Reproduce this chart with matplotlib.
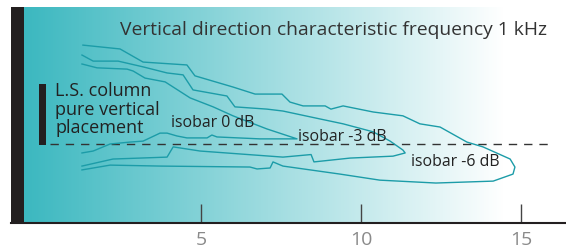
import numpy as np
import matplotlib
matplotlib.use('Agg')
import matplotlib.pyplot as plt
from matplotlib.colors import LinearSegmentedColormap
from matplotlib.patches import Rectangle

plt.rcParams['font.family'] = ['Open Sans', 'DejaVu Sans']

# isobar contours (x: distance, y: height relative to reference line)
iso0_x = [1.28, 1.75, 2.69, 2.88, 3.25, 3.88, 4.66, 5.38, 6.00, 7.06, 8.00,
          6.84, 5.50, 5.34, 5.19, 4.56, 4.25, 3.94, 3.72, 3.19, 2.78, 2.47, 2.16, 1.63, 1.28]
iso0_y = [2.50, 2.38, 2.34, 2.28, 2.06, 1.94, 1.44, 1.16, 0.88, 0.47, 0.16,
          0.16, 0.22, 0.28, 0.19, 0.19, 0.25, 0.34, 0.34, 0.09, 0.06, 0.03, 0.00, -0.22, -0.28]

iso3_x = [1.28, 1.63, 2.41, 3.19, 3.94, 4.44, 4.75, 5.81, 6.06, 7.06, 7.56, 8.59, 9.44,
          10.38, 10.91, 11.31, 11.38, 11.00, 9.66, 8.53, 8.44, 7.56, 4.97, 4.13, 3.94, 2.25, 1.28]
iso3_y = [2.78, 2.59, 2.59, 2.41, 2.22, 2.16, 1.69, 1.50, 1.16, 1.09, 1.03, 0.81, 0.63,
          0.38, 0.09, -0.19, -0.28, -0.38, -0.44, -0.56, -0.33, -0.41, -0.22, -0.09, -0.41, -0.47, -0.69]

iso6_x = [1.31, 2.47, 3.19, 4.56, 4.81, 6.00, 6.69, 7.53, 7.78, 8.19, 8.88, 9.06, 9.44,
          10.38, 11.31, 11.84, 12.47, 13.31, 13.81, 14.66, 14.81, 14.75, 14.13, 12.34, 10.59,
          9.34, 7.56, 7.25, 7.16, 6.75, 6.53, 3.72, 2.16, 1.28]
iso6_y = [3.09, 2.97, 2.56, 2.47, 2.13, 1.78, 1.56, 1.56, 1.31, 1.19, 1.19, 1.09, 1.19,
          1.00, 0.88, 0.63, 0.53, 0.06, -0.09, -0.47, -0.72, -0.94, -1.16, -1.22, -1.13,
          -0.94, -0.69, -0.56, -0.75, -0.78, -0.72, -0.69, -0.66, -0.81]

ticks = [5, 10, 15]
iso_labels = ['isobar 0 dB', 'isobar -3 dB', 'isobar -6 dB']
label_pos = [(5.38, 0.69), (9.41, 0.25), (12.94, -0.53)]

teal = '#1c9ca8'
dark = '#333333'

fig = plt.figure(figsize=(5.66, 2.51), dpi=100)
ax = fig.add_axes([11 / 566, 27 / 251, 555 / 566, 216 / 251])
x0, x1 = -0.9375, 16.406
y0, y1 = -2.469, 4.281
ax.set_xlim(x0, x1)
ax.set_ylim(y0, y1)

# background gradient
cmap = LinearSegmentedColormap.from_list('bg', ['#3cb8c0', '#ffffff'])
grad = np.clip(np.linspace(0, 542 / 481, 600), 0, 1)[None, :]
ax.imshow(grad, cmap=cmap, vmin=0, vmax=1, aspect='auto',
          extent=[-0.531, x1, y0, y1], zorder=0)
ax.add_patch(Rectangle((x0, y0), -0.531 - x0, y1 - y0, color='#231f20', zorder=1, lw=0))

for xs, ys in [(iso0_x, iso0_y), (iso3_x, iso3_y), (iso6_x, iso6_y)]:
    ax.plot(xs, ys, color=teal, lw=1.0, zorder=3)

ax.plot([0.28, 15.84], [0, 0], color=dark, lw=1.0, dashes=(6, 5), zorder=2)

for lab, (lx, ly) in zip(iso_labels, label_pos):
    ax.text(lx, ly, lab, ha='center', va='center', fontsize=11.4, color='#222222', zorder=4)

ax.add_patch(Rectangle((-0.06, -0.03), 0.22, 1.905, color='#231f20', lw=0, zorder=2))
ax.text(0.44, 1.10, 'L.S. column\npure vertical\nplacement', ha='left', va='center',
        fontsize=13, color='#222222', linespacing=1.05, zorder=4)

ax.text(9.13, 3.59, 'Vertical direction characteristic frequency 1 kHz', ha='center',
        va='center', fontsize=13.9, color=dark, zorder=4)

for s in ['top', 'right', 'left']:
    ax.spines[s].set_visible(False)
ax.spines['bottom'].set_color('#231f20')
ax.spines['bottom'].set_linewidth(1.5)
ax.set_yticks([])
ax.set_xticks(ticks)
ax.set_xticklabels([str(t) for t in ticks])
ax.tick_params(axis='x', direction='in', length=14, width=1.0, color='#444444',
               labelsize=14, labelcolor='#8a8a8a', pad=5)

fig.savefig('out.png', dpi=100)
